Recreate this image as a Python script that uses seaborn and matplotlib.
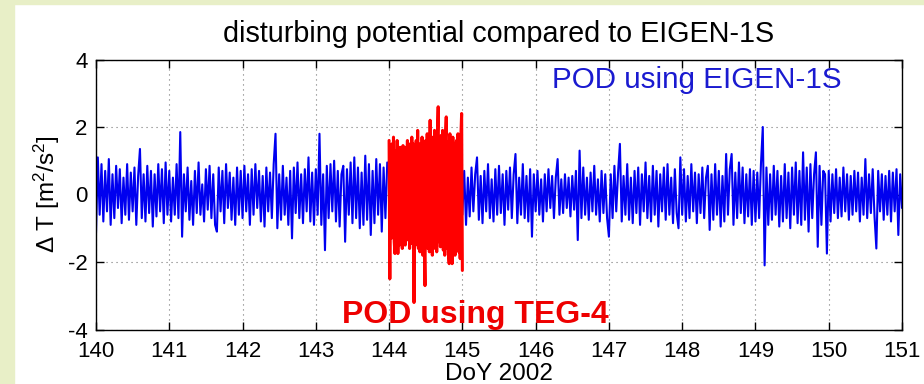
import numpy as np
import pandas as pd
import seaborn as sns
import matplotlib.pyplot as plt
from matplotlib.patches import Rectangle

# ---- data (dT in m^2/s^2) ----
blue_140 = [-1.15, 1.1, -0.6, 0.9, -0.8, 0.7, -0.5, 1.05, -0.9, 0.6, -0.7, 0.85, -0.4, 0.75, -0.85, 0.5, -0.6, 0.9, -0.75, 0.65,
            -0.5, 0.8, -0.9, 0.55, 1.35, -0.7, 0.6, -0.8, 0.85, -0.55, 0.7, -0.95, 0.6, -0.65, 0.9, -0.5, 0.75, -0.85, 0.95, -0.6]
blue_141 = [0.7, -0.8, 0.5, -0.6, 0.9, -0.7, 1.85, -1.25, 0.6, -0.5, 0.8, -0.75, 0.4, -0.9, 0.7, -0.55, 0.95, -0.6, 0.3, -0.8,
            0.75, -0.45, 0.85, -0.7, 0.6, -0.9, -1.1, 0.8, -0.5, 0.7, -0.85, 0.9, -0.4, 0.65, -0.75, 0.5, -0.9, 0.8, -0.6, 0.7]
blue_142 = [-0.7, 0.85, -0.5, 0.6, -0.9, 0.75, -0.6, 0.9, -0.4, 0.7, -0.8, 0.55, -0.95, 0.8, -0.5, 0.65, -0.7, 0.9, 1.8, -1.0,
            0.6, -0.75, 0.85, -0.6, 0.5, -0.9, 0.7, -1.3, 0.8, -0.55, 0.95, -0.7, 0.6, -0.85, 0.75, -0.5, 1.1, -0.8, 0.65, -0.9]
blue_143 = [0.75, -0.6, 1.8, -0.9, 0.6, -1.65, 0.85, -0.7, 0.9, -0.5, 1.0, -0.8, 0.7, -0.95, 0.6, 0.85, -1.4, 0.75, -0.6, 0.95,
            -0.85, 1.1, -0.7, 0.8, -1.0, 0.65, -0.9, 1.15, -0.75, 0.9, -1.2, 0.7, -0.85, 1.05, -0.6, 0.9, -1.1, 0.8, -0.7, 0.95]
red_144 = [1.6, -2.5, 1.2, -1.3, 1.5, -1.0, 1.7, -1.4, -1.75, 1.3, -1.2, 1.6, -1.75, 1.1, -1.5, 1.4, -1.3, 1.2, -1.6, 1.45,
           -1.1, 1.3, -1.5, 1.4, -1.35, 1.6, -1.2, 1.5, -1.6, 1.35, -1.45, 1.7, -1.3, 1.5, -3.2, 1.4, -1.5, 1.6, -1.4, 1.9,
           -1.6, 1.5, -1.7, 1.45, -1.3, 1.7, -1.8, 1.55, -1.5, -2.7, 1.6, -1.4, 1.8, -1.6, 1.5, -1.7, 2.2, -1.5, 1.65, -1.8,
           1.7, -1.45, 1.9, -1.6, 1.5, -1.7, 1.8, 2.6, -1.4, 1.6, -1.55, 1.75, -1.5, 1.9, -1.65, 1.5, -1.8, 1.7, 2.3, -1.6,
           1.55, -1.7, -2.05, 1.8, -1.5, 1.6, -2.05, 1.7, -1.45, 1.5, -1.8, 1.4, 1.6, -1.6, 1.8, -1.7, 1.5, -1.9, 1.75, 2.4,
           -2.25]
blue_145 = [-0.6, 0.7, -0.9, 0.5, -0.65, 0.8, -0.5, 0.6, 1.1, -0.75, 0.55, -0.85, 0.7, -0.5, 0.9, -0.7, 0.45, -0.8, 0.75, -0.6,
            0.85, -0.55, 0.6, -0.9, 0.7, -0.45, 0.8, -0.7, 0.6, 1.2, -0.85, 0.5, -0.6, 0.9, -0.7, 0.55, -0.8, 0.75, -1.25, 0.6]
blue_146 = [-0.5, 0.7, -0.6, 0.45, -0.8, 0.6, -0.5, 0.75, -0.4, 0.55, -0.7, 0.5, 1.05, -0.6, 0.45, -0.55, 0.6, -0.4, 0.5, -0.65,
            0.55, -0.45, 0.7, -1.35, 1.3, -0.7, 0.8, -0.6, 0.5, -0.75, 0.65, -0.5, 0.85, -0.6, 0.45, -0.8, 0.7, -0.55, 0.6, -0.7]
blue_147 = [-1.25, 0.6, -0.7, 0.85, -0.5, 0.65, 1.5, -0.8, 0.55, -0.6, 0.9, -0.75, 0.5, -0.85, 0.7, -0.55, 0.8, -0.9, 0.6, -0.5,
            0.95, -0.7, 0.55, -0.8, 0.85, -0.6, 0.7, -0.95, 0.6, -0.5, 0.8, -0.75, 0.9, -0.6, 0.5, -0.85, 0.75, -0.55, -1.0, 1.1]
blue_148 = [-0.6, 0.75, -0.8, 0.55, -0.7, 0.9, -0.5, 0.65, -0.85, 0.6, -0.55, 0.8, -0.7, 0.5, 0.85, -1.05, 0.6, -0.75, 0.9, -0.6,
            0.7, -0.95, 0.55, -0.8, 1.2, -0.6, 0.75, 1.2, -0.9, 0.65, -0.7, 0.95, -0.55, 0.8, -0.85, 0.6, -0.65, 0.75, -0.9, 0.7]
blue_149 = [-0.8, 0.65, -0.7, 0.9, 2.0, -2.1, 0.8, -0.9, 0.6, -0.75, 0.85, -0.6, 0.7, -0.95, 0.55, -0.8, 0.9, -0.7, 0.65, -1.0,
            0.8, -0.6, 0.95, -0.85, 0.7, -0.9, 1.25, -0.75, 0.8, -1.1, 0.9, -0.7, 0.6, 1.25, -1.55, 0.85, -0.9, 0.7, 0.6, -1.75]
blue_150 = [0.7, -0.8, 0.6, -0.55, 0.75, -0.7, 0.5, -0.65, 0.8, -0.5, 0.6, -0.75, 0.55, -0.6, 0.7, -0.5, 0.65, -0.8, 0.5, -0.6,
            1.05, -0.7, 0.6, -0.55, 0.75, -0.65, -1.6, 0.7, -0.5, 0.6, -0.75, 0.55, -0.6, 0.7, -0.8, 0.65, -0.5, 0.75, -1.2, 0.6,
            -0.4]

blue_step = 0.025   # days between blue samples
red_step = 0.01     # days between red samples
x_ticks = list(range(140, 152))
y_ticks = [-4, -2, 0, 2, 4]

seg_a = blue_140 + blue_141 + blue_142 + blue_143
seg_b = blue_145 + blue_146 + blue_147 + blue_148 + blue_149 + blue_150

df = pd.concat([
    pd.DataFrame({"doy": 140 + np.arange(len(seg_a)) * blue_step, "dT": seg_a,
                  "orbit": "EIGEN-1S", "seg": 0}),
    pd.DataFrame({"doy": 144 + np.arange(len(red_144)) * red_step, "dT": red_144,
                  "orbit": "TEG-4", "seg": 1}),
    pd.DataFrame({"doy": 145 + np.arange(len(seg_b)) * blue_step, "dT": seg_b,
                  "orbit": "EIGEN-1S", "seg": 2}),
], ignore_index=True)

# ---- style ----
sns.set_style("ticks")
plt.rcParams["font.family"] = ["Liberation Sans", "DejaVu Sans"]
plt.rcParams["mathtext.default"] = "regular"
plt.rcParams["axes.unicode_minus"] = False
plt.rcParams["text.color"] = "black"
plt.rcParams["axes.labelcolor"] = "black"

fig = plt.figure(figsize=(9.24, 3.84), dpi=100, facecolor="white")
frame_col = "#e8efc7"
fig.add_artist(Rectangle((0, 0), 14 / 924, 1, transform=fig.transFigure, color=frame_col, zorder=-10))
fig.add_artist(Rectangle((0, 1 - 4 / 384), 1, 4 / 384, transform=fig.transFigure, color=frame_col, zorder=-10))

ax = fig.add_axes([96 / 924, 1 - 329.5 / 384, (902 - 96) / 924, (329.5 - 59.5) / 384])

blue_df = df[df.orbit == "EIGEN-1S"]
red_df = df[df.orbit == "TEG-4"]
sns.lineplot(data=blue_df, x="doy", y="dT", units="seg", estimator=None, color="#0000f0",
             linewidth=1.5, ax=ax, legend=False)
sns.lineplot(data=red_df, x="doy", y="dT", units="seg", estimator=None, color="#ff0000",
             linewidth=2.2, ax=ax, legend=False)

ax.set_xlim(140, 151)
ax.set_ylim(-4, 4)
ax.set_xticks(x_ticks)
ax.set_yticks(y_ticks)
ax.grid(True, linestyle=(0, (1, 3.5)), color="#777777", linewidth=0.8)
ax.set_axisbelow(True)
for s in ax.spines.values():
    s.set_visible(True)
    s.set_color("black")
    s.set_linewidth(1.0)
ax.tick_params(direction="in", length=6, width=1, top=True, right=True,
               labelsize=16, colors="black")
ax.tick_params(axis="x", pad=8)
ax.tick_params(axis="y", pad=6)
ax.set_xlabel("DoY 2002", fontsize=17.5, labelpad=1)
ax.set_ylabel("Δ T [m$^2$/s$^2$]", fontsize=17.5, labelpad=4)
ax.set_title("disturbing potential compared to EIGEN-1S", fontsize=20.7, pad=12.5, color="black")

ax.text(148.2, 3.15, "POD using EIGEN-1S", color="#1a1ad0", fontsize=21.3,
        ha="center", va="baseline")
ax.text(145.17, -3.82, "POD using TEG-4", color="#ee0000", fontsize=23,
        fontweight="bold", ha="center", va="baseline")

fig.savefig("out.png", dpi=100, facecolor="white")
